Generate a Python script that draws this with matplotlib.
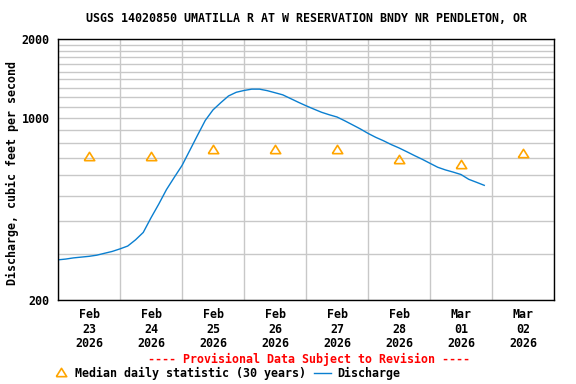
"""USGS discharge plot: Umatilla R at W Reservation Bndy nr Pendleton, OR."""

from datetime import datetime, timedelta

import matplotlib
import matplotlib.dates as mdates
import matplotlib.pyplot as plt
from matplotlib.lines import Line2D
from matplotlib.ticker import FixedFormatter, FixedLocator, NullFormatter

matplotlib.use("Agg")

TITLE = "USGS 14020850 UMATILLA R AT W RESERVATION BNDY NR PENDLETON, OR"
Y_LABEL = "Discharge, cubic feet per second"

START = datetime(2026, 2, 23)
STEP_HOURS = 3

# discharge, cfs, every 3 hours from Feb 23 00:00
discharge = [
    285, 287, 290, 292, 294, 297, 302, 307,
    314, 322, 340, 363, 413, 466, 530, 590,
    655, 748, 855, 975, 1070, 1140, 1210, 1250,
    1270, 1285, 1285, 1268, 1245, 1222, 1183, 1145,
    1110, 1078, 1048, 1025, 1005, 972, 938, 905,
    870, 840, 815, 788, 765, 740, 715, 692,
    668, 645, 630, 618, 605, 580, 565, 550,
]

# median daily statistic (30 years), plotted at noon of each day
median_days = [datetime(2026, 2, 23) + timedelta(days=i) for i in range(8)]
median_values = [714, 712, 758, 755, 758, 692, 664, 734]

y_tick_values = [200, 1000, 2000]
y_grid_values = list(range(300, 2000, 100))

FONT = dict(family="DejaVu Sans Mono", fontweight="bold", fontsize=8.4)
BLUE = "#0a7fd0"
ORANGE = "#ffa500"
# flat open triangle, a bit wider than tall
TRIANGLE = [(-1, -0.8), (1, -0.8), (0, 0.8), (-1, -0.8)]
TRI_STYLE = dict(marker=TRIANGLE, markersize=7.5, markerfacecolor="none",
                 markeredgecolor=ORANGE, markeredgewidth=1.2, linestyle="none")


def main() -> None:
    times = [START + timedelta(hours=STEP_HOURS * i) for i in range(len(discharge))]
    median_x = [d + timedelta(hours=12) for d in median_days]

    fig = plt.figure(figsize=(5.76, 3.84), dpi=100)
    ax = fig.add_axes([58 / 576, 1 - 300 / 384, 496 / 576, 261 / 384])

    ax.set_yscale("log")
    ax.set_ylim(200, 2000)
    ax.set_xlim(START, START + timedelta(days=8))

    ax.yaxis.set_major_locator(FixedLocator(y_tick_values))
    ax.yaxis.set_major_formatter(FixedFormatter([str(v) for v in y_tick_values]))
    ax.yaxis.set_minor_locator(FixedLocator(y_grid_values))
    ax.yaxis.set_minor_formatter(NullFormatter())

    ax.xaxis.set_major_locator(mdates.DayLocator())
    ax.xaxis.set_major_formatter(NullFormatter())
    ax.xaxis.set_minor_locator(mdates.HourLocator(byhour=12))
    ax.xaxis.set_minor_formatter(mdates.DateFormatter("%b\n%d\n%Y"))

    ax.grid(True, which="both", axis="y", color="#c8c8c8", linewidth=1.0)
    ax.grid(True, which="major", axis="x", color="#c8c8c8", linewidth=1.0)
    ax.set_axisbelow(True)

    ax.tick_params(which="both", length=0)
    ax.tick_params(axis="y", pad=6)
    ax.tick_params(axis="x", which="minor", pad=6)
    for lab in ax.get_yticklabels() + ax.get_xticklabels(minor=True):
        lab.set_fontfamily(FONT["family"])
        lab.set_fontweight("bold")
        lab.set_fontsize(FONT["fontsize"])
        lab.set_linespacing(1.15)

    for spine in ax.spines.values():
        spine.set_color("black")
        spine.set_linewidth(1.0)

    ax.plot(times, discharge, color=BLUE, linewidth=1.0)
    ax.plot(median_x, median_values, **TRI_STYLE)

    ax.set_ylabel(Y_LABEL, **FONT)
    ax.yaxis.set_label_coords((19 - 58) / 496, 0.485)

    fig.text(306 / 576, 1 - 19 / 384, TITLE, ha="center", va="center", **FONT)
    fig.text(309 / 576, 1 - 359 / 384, "---- Provisional Data Subject to Revision ----",
             ha="center", va="center", color="red", **FONT)

    ly = 1 - 373 / 384
    fig.add_artist(Line2D([61 / 576], [ly + 0.003], transform=fig.transFigure, **TRI_STYLE))
    fig.text(75 / 576, ly, "Median daily statistic (30 years)", ha="left", va="center", **FONT)
    fig.add_artist(Line2D([314 / 576, 331 / 576], [ly, ly], transform=fig.transFigure,
                          color=BLUE, linewidth=1.0))
    fig.text(337 / 576, ly, "Discharge", ha="left", va="center", **FONT)

    fig.savefig("out.png", dpi=100)
    plt.close(fig)


if __name__ == "__main__":
    main()
